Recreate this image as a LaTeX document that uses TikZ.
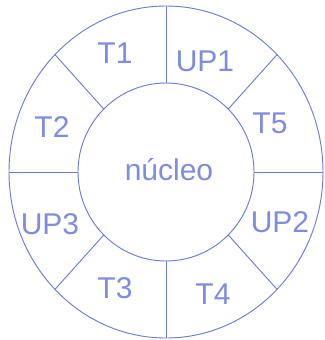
\documentclass[tikz,border=0pt]{standalone}
\usepackage{fontspec}
\setmainfont{Liberation Sans}
\usetikzlibrary{calc}
\definecolor{ringblue}{RGB}{105,125,215}
\definecolor{textblue}{RGB}{125,140,225}

\begin{document}
\begin{tikzpicture}[x=0.75pt,y=-0.75pt,
    lbl/.style={text=textblue,font=\fontsize{22.5}{27}\selectfont,inner sep=0pt}]
    \useasboundingbox (0,0) rectangle (325,340);
    \def\Rx{117.75pt}
    \def\Ry{124.5pt}
    \def\rx{66pt}
    \def\ry{66.75pt}
    \coordinate (C) at (166,172);
    \draw[ringblue,line width=0.7pt] (C) ellipse [x radius=\Rx,y radius=\Ry];
    \draw[ringblue,line width=0.7pt] (C) ellipse [x radius=\rx,y radius=\ry];
    \foreach \a in {0,45,...,315}{
        \draw[ringblue,line width=0.7pt] ($(C)+(\a:{\rx} and {\ry})$) -- ($(C)+(\a:{\Rx} and {\Ry})$);
    }
    \node[lbl] (nucleo) at (169,170) {núcleo};
    \node[lbl] (t1)  at (115,53)  {T1};
    \node[lbl] (up1) at (205,61)  {UP1};
    \node[lbl] (t2)  at (52,127)  {T2};
    \node[lbl] (t5)  at (270,123) {T5};
    \node[lbl] (up3) at (50,224)  {UP3};
    \node[lbl] (up2) at (280,222) {UP2};
    \node[lbl] (t3)  at (115,288) {T3};
    \node[lbl] (t4)  at (213,294) {T4};
\end{tikzpicture}
\end{document}
